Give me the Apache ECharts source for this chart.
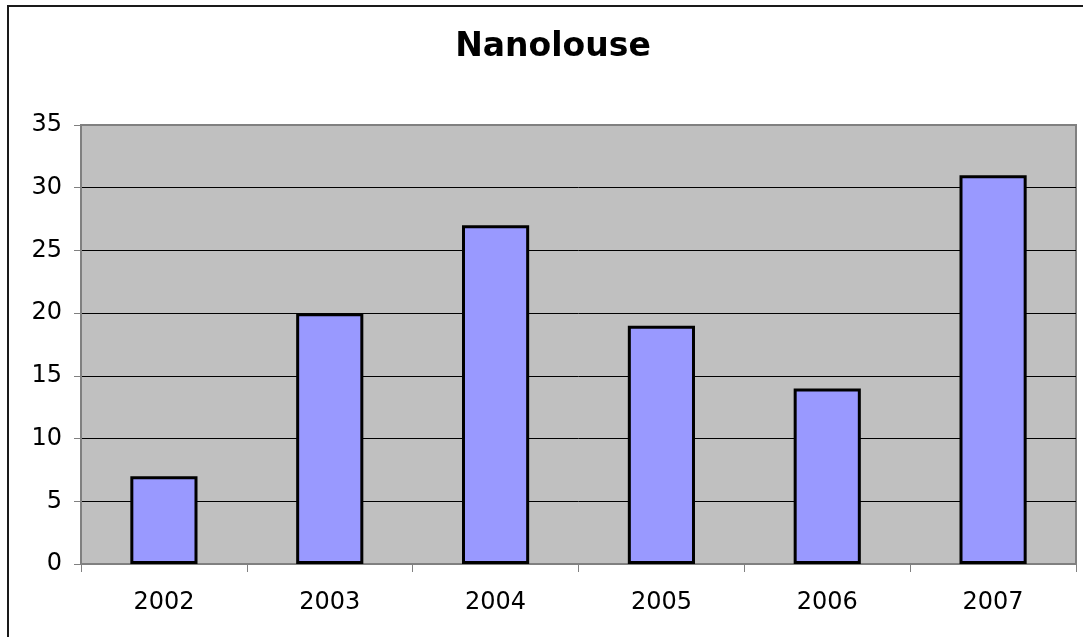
<!DOCTYPE html>
<html>
<head>
<meta charset="utf-8">
<script src="https://cdn.jsdelivr.net/npm/echarts@6/dist/echarts.min.js"></script>
<style>html,body{margin:0;padding:0;background:#fff}#c{width:1083px;height:637px}</style>
</head>
<body>
<div id="c"></div>
<script>
const categories = ['2002', '2003', '2004', '2005', '2006', '2007'];
const values = [7, 20, 27, 19, 14, 31];
const titleText = 'Nanolouse';

const chart = echarts.init(document.getElementById('c'), null, {renderer: 'canvas'});
chart.setOption({
  animation: false,
  backgroundColor: '#ffffff',
  title: {
    text: titleText,
    left: 548, top: 26, textAlign: 'center',
    textStyle: {fontFamily: 'DejaVu Sans', fontWeight: 'bold', fontSize: 33, color: '#000'}
  },
  graphic: [{
    type: 'rect', shape: {x: 8, y: 6, width: 1200, height: 800},
    style: {fill: 'none', stroke: '#1a1a1a', lineWidth: 2}, z: -1
  }],
  grid: {
    left: 81, right: 7, top: 125, bottom: 73,
    show: true, backgroundColor: '#C0C0C0', borderColor: '#808080', borderWidth: 2
  },
  xAxis: {
    type: 'category', data: categories,
    axisLine: {show: true, lineStyle: {color: '#808080', width: 2}},
    axisTick: {show: true, length: 8, lineStyle: {color: '#808080', width: 1}},
    axisLabel: {fontFamily: 'DejaVu Sans', fontSize: 24, color: '#000', margin: 27},
    splitLine: {show: false}
  },
  yAxis: {
    type: 'value', min: 0, max: 35, interval: 5,
    axisLine: {show: true, lineStyle: {color: '#808080', width: 2}},
    axisTick: {show: true, length: 7, lineStyle: {color: '#808080', width: 1}},
    axisLabel: {fontFamily: 'DejaVu Sans', fontSize: 24, color: '#000', margin: 19},
    splitLine: {show: true, lineStyle: {color: ['#808080', '#000', '#000', '#000', '#000', '#000', '#000', '#808080'], width: 1}}
  },
  series: [{
    type: 'bar', data: values, barWidth: '40.5%',
    itemStyle: {color: '#9999FF', borderColor: '#000', borderWidth: 3}
  }]
});
</script>
</body>
</html>
